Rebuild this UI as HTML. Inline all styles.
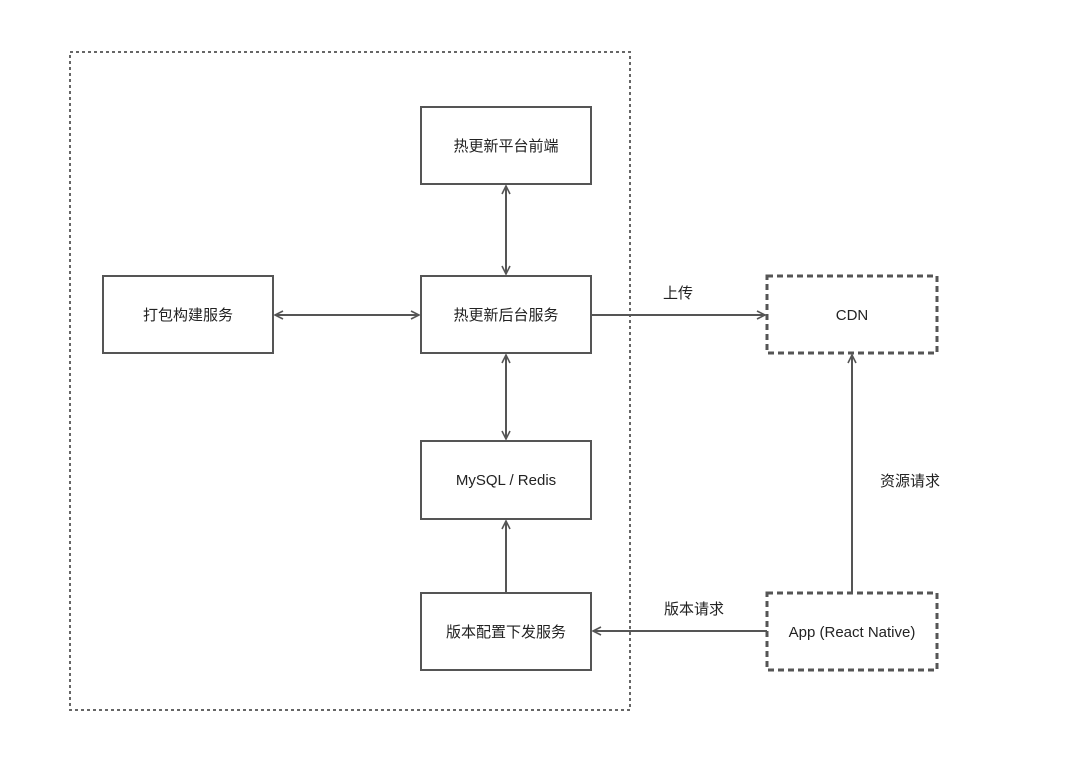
<!DOCTYPE html>
<html><head><meta charset="utf-8"><style>
html,body{margin:0;padding:0;background:#fff}
svg text{font-family:"Liberation Sans","Noto Sans CJK SC",sans-serif;font-size:15px;fill:#222}
</style></head><body>
<svg width="1080" height="779" viewBox="0 0 1080 779" xmlns="http://www.w3.org/2000/svg">
<defs>
<marker id="a" viewBox="0 0 10 10" refX="9" refY="5" markerWidth="10" markerHeight="10" orient="auto-start-reverse" markerUnits="userSpaceOnUse">
<path d="M1,1 L9,5 L1,9" fill="none" stroke="#555" stroke-width="1.6"/>
</marker>
</defs>
<rect x="70" y="52" width="560" height="658" fill="none" stroke="#666" stroke-width="2" stroke-dasharray="3,3"/>
<g fill="#fff" stroke="#555" stroke-width="2">
<rect x="421" y="107" width="170" height="77"/>
<rect x="421" y="276" width="170" height="77"/>
<rect x="421" y="441" width="170" height="78"/>
<rect x="421" y="593" width="170" height="77"/>
<rect x="103" y="276" width="170" height="77"/>
</g>
<g fill="#fff" stroke="#555" stroke-width="3" stroke-dasharray="6,4">
<rect x="767" y="276" width="170" height="77"/>
<rect x="767" y="593" width="170" height="77"/>
</g>
<g stroke="#555" stroke-width="2" fill="none">
<line x1="506" y1="186" x2="506" y2="274" marker-start="url(#a)" marker-end="url(#a)"/>
<line x1="506" y1="355" x2="506" y2="439" marker-start="url(#a)" marker-end="url(#a)"/>
<line x1="275" y1="315" x2="419" y2="315" marker-start="url(#a)" marker-end="url(#a)"/>
<line x1="506" y1="593" x2="506" y2="521" marker-end="url(#a)"/>
<line x1="591" y1="315" x2="765" y2="315" marker-end="url(#a)"/>
<line x1="852" y1="593" x2="852" y2="355" marker-end="url(#a)"/>
<line x1="767" y1="631" x2="593" y2="631" marker-end="url(#a)"/>
</g>
<g text-anchor="middle">
<text x="506" y="151">热更新平台前端</text>
<text x="506" y="320">热更新后台服务</text>
<text x="506" y="485">MySQL / Redis</text>
<text x="506" y="637">版本配置下发服务</text>
<text x="188" y="320">打包构建服务</text>
<text x="852" y="320">CDN</text>
<text x="852" y="637">App (React Native)</text>
<text x="678" y="298">上传</text>
<text x="910" y="486">资源请求</text>
<text x="694" y="614">版本请求</text>
</g>
</svg>
</body></html>
